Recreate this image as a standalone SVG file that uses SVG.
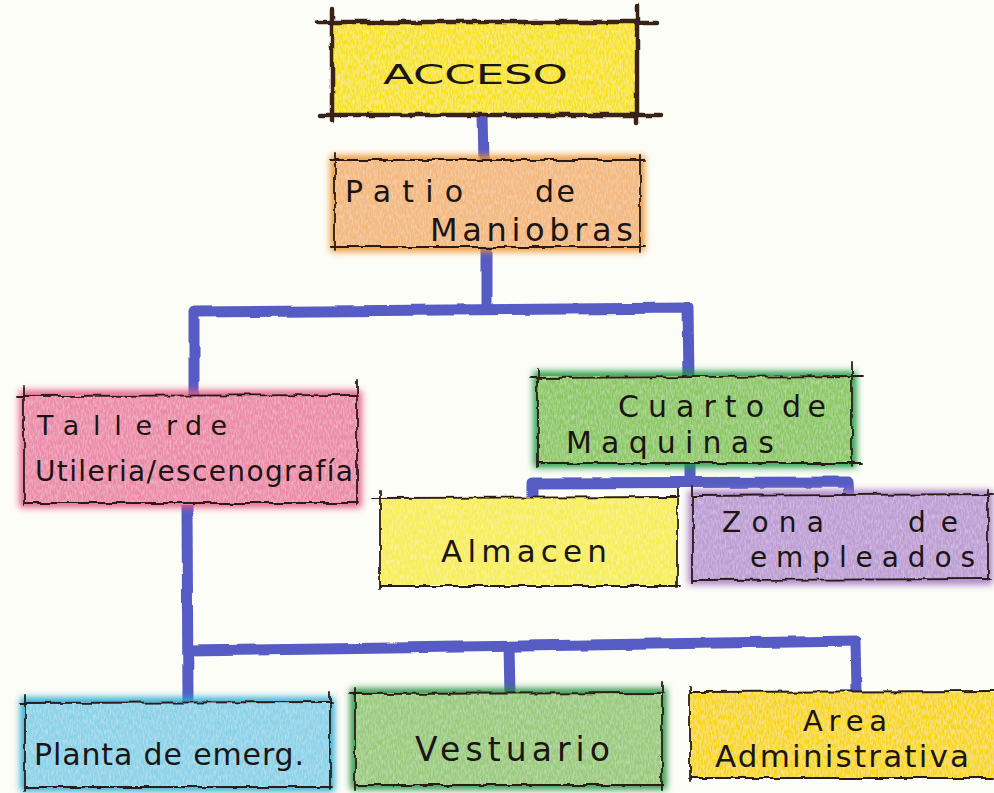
<svg xmlns="http://www.w3.org/2000/svg" width="994" height="793" viewBox="0 0 994 793">
<defs>
  <filter id="wob" filterUnits="userSpaceOnUse" x="0" y="0" width="994" height="793">
    <feTurbulence type="fractalNoise" baseFrequency="0.07" numOctaves="2" seed="4" result="n"/>
    <feDisplacementMap in="SourceGraphic" in2="n" scale="5" xChannelSelector="R" yChannelSelector="G"/>
  </filter>
  <filter id="wob2" filterUnits="userSpaceOnUse" x="0" y="0" width="994" height="793">
    <feTurbulence type="fractalNoise" baseFrequency="0.03" numOctaves="2" seed="9" result="n"/>
    <feDisplacementMap in="SourceGraphic" in2="n" scale="4" xChannelSelector="R" yChannelSelector="G"/>
  </filter>
  <filter id="glow" x="-10%" y="-20%" width="120%" height="140%">
    <feGaussianBlur stdDeviation="3.5"/>
  </filter>
  <filter id="tex" x="0" y="0" width="100%" height="100%">
    <feTurbulence type="fractalNoise" baseFrequency="0.6 0.2" numOctaves="2" seed="7" result="t"/>
    <feColorMatrix in="t" type="matrix" values="0 0 0 0 1  0 0 0 0 1  0 0 0 0 1  0.6 0 0 0 -0.22" result="w"/>
    <feComposite in="w" in2="SourceGraphic" operator="in" result="ws"/>
    <feMerge><feMergeNode in="SourceGraphic"/><feMergeNode in="ws"/></feMerge>
  </filter>
</defs>
<style>
  .bg { fill: #fdfdf7; }
  .halo { fill: none; stroke-width: 9; filter: url(#glow); }
  .fill { filter: url(#tex); }
  .edge { fill: none; stroke: #2b1c16; stroke-width: 1.8; filter: url(#wob); stroke-linecap: round; }
  .edge-thick { fill: none; stroke: #3a2418; stroke-width: 4.5; filter: url(#wob); stroke-linecap: round; }
  .lbl { font-family: "DejaVu Sans", "Liberation Sans", sans-serif; fill: #1b1614; font-weight: 400; }
  .conn { fill: none; stroke: #565cc4; stroke-width: 11; stroke-linejoin: round; stroke-linecap: butt; filter: url(#wob2); }
</style>
<rect class="bg" x="0" y="0" width="994" height="793"/>

<g id="connectors">
  <path class="conn" d="M483,114 L484,162"/>
  <path class="conn" d="M487,246 L487,310"/>
  <path class="conn" d="M194,397 L194,312 L688,308 L689,377"/>
  <path class="conn" d="M690,462 L690,483"/>
  <path class="conn" d="M533,498 L533,483 L848,482 L849,497"/>
  <path class="conn" d="M187,505 L188,701"/>
  <path class="conn" d="M187,651 L855,641 L856,692"/>
  <path class="conn" d="M509,646 L510,694"/>
</g>

<g id="acceso">
  <rect class="fill" x="332" y="22" width="306" height="93" fill="#f8e318"/>
  <path class="edge-thick" d="M318,22 L657,22 M320,115 L660,115 M332,10 L332,121 M637,6 L637,123"/>
  <text class="lbl" x="383" y="84" font-size="27" textLength="185" lengthAdjust="spacingAndGlyphs">ACCESO</text>
</g>

<g id="patio">
  <rect class="halo" x="335" y="160" width="305" height="87" stroke="#ea9230"/>
  <rect class="fill" x="335" y="160" width="305" height="87" fill="#f3b87c"/>
  <path class="edge" d="M330,160 L645,160 M330,247 L645,247 M335,153 L335,250 M640,155 L640,252"/>
  <text class="lbl" x="345" y="202" font-size="30" textLength="118" lengthAdjust="spacing">Patio</text>
  <text class="lbl" x="535" y="202" font-size="30" textLength="40" lengthAdjust="spacing">de</text>
  <text class="lbl" x="430" y="241" font-size="32" textLength="203" lengthAdjust="spacing">Maniobras</text>
</g>

<g id="taller">
  <rect class="halo" x="24" y="395" width="333" height="108" stroke="#e35a88"/>
  <rect class="fill" x="24" y="395" width="333" height="108" fill="#ec8aa9"/>
  <path class="edge" d="M17,396 L358,395 M24,503 L358,503 M24,387 L24,505 M357,380 L357,505"/>
  <text class="lbl" x="37" y="435" font-size="27" textLength="140" lengthAdjust="spacing">Taller</text>
  <text class="lbl" x="185" y="435" font-size="27" textLength="42" lengthAdjust="spacing">de</text>
  <text class="lbl" x="35" y="481" font-size="28" textLength="318" lengthAdjust="spacing">Utileria/escenografía</text>
</g>

<g id="cuarto">
  <rect class="halo" x="538" y="376" width="314" height="87" stroke="#1e9a40"/>
  <rect class="fill" x="538" y="376" width="314" height="87" fill="#8cc862"/>
  <path class="edge" d="M530,378 L862,376 M538,463 L862,463 M538,370 L538,467 M852,362 L852,466"/>
  <text class="lbl" x="618" y="417" font-size="30" textLength="146" lengthAdjust="spacing">Cuarto</text>
  <text class="lbl" x="782" y="417" font-size="30" textLength="44" lengthAdjust="spacing">de</text>
  <text class="lbl" x="566" y="453" font-size="30" textLength="208" lengthAdjust="spacing">Maquinas</text>
</g>

<g id="almacen">
  <rect class="fill" x="380" y="497" width="297" height="88" fill="#f7ee52"/>
  <path class="edge" d="M372,498 L678,497 M380,586 L680,586 M380,490 L380,588 M677,488 L677,588"/>
  <text class="lbl" x="441" y="562" font-size="31" textLength="166" lengthAdjust="spacing">Almacen</text>
</g>

<g id="zona">
  <rect class="halo" x="693" y="495" width="295" height="85" stroke="#a57cc6"/>
  <rect class="fill" x="693" y="495" width="295" height="85" fill="#bd9dd4"/>
  <path class="edge" d="M693,496 L992,494 M693,580 L992,579 M693,487 L693,583 M988,490 L988,580"/>
  <text class="lbl" x="722" y="532" font-size="28" textLength="102" lengthAdjust="spacing">Zona</text>
  <text class="lbl" x="908" y="532" font-size="28" textLength="50" lengthAdjust="spacing">de</text>
  <text class="lbl" x="750" y="567" font-size="28" textLength="225" lengthAdjust="spacing">empleados</text>
</g>

<g id="planta">
  <rect class="halo" x="25" y="702" width="305" height="85" stroke="#2aa9d3"/>
  <rect class="fill" x="25" y="702" width="305" height="85" fill="#8ad2e8"/>
  <path class="edge" d="M20,703 L332,702 M25,787 L332,787 M25,694 L25,790 M330,692 L330,790"/>
  <text class="lbl" x="34" y="765" font-size="30" textLength="270" lengthAdjust="spacing">Planta de emerg.</text>
</g>

<g id="vestuario">
  <rect class="halo" x="355" y="693" width="307" height="92" stroke="#22923f"/>
  <rect class="fill" x="355" y="693" width="307" height="92" fill="#9acb7c"/>
  <path class="edge" d="M350,694 L664,693 M355,785 L664,785 M355,688 L355,790 M662,682 L662,790"/>
  <text class="lbl" x="415" y="761" font-size="33" textLength="195" lengthAdjust="spacing">Vestuario</text>
</g>

<g id="area">
  <rect class="fill" x="690" y="692" width="304" height="86" fill="#f8d70c"/>
  <path class="edge" d="M690,692 L994,691 M690,778 L994,778 M690,686 L690,782"/>
  <text class="lbl" x="803" y="731" font-size="29" textLength="84" lengthAdjust="spacing">Area</text>
  <text class="lbl" x="715" y="767" font-size="31" textLength="254" lengthAdjust="spacing">Administrativa</text>
</g>
</svg>
